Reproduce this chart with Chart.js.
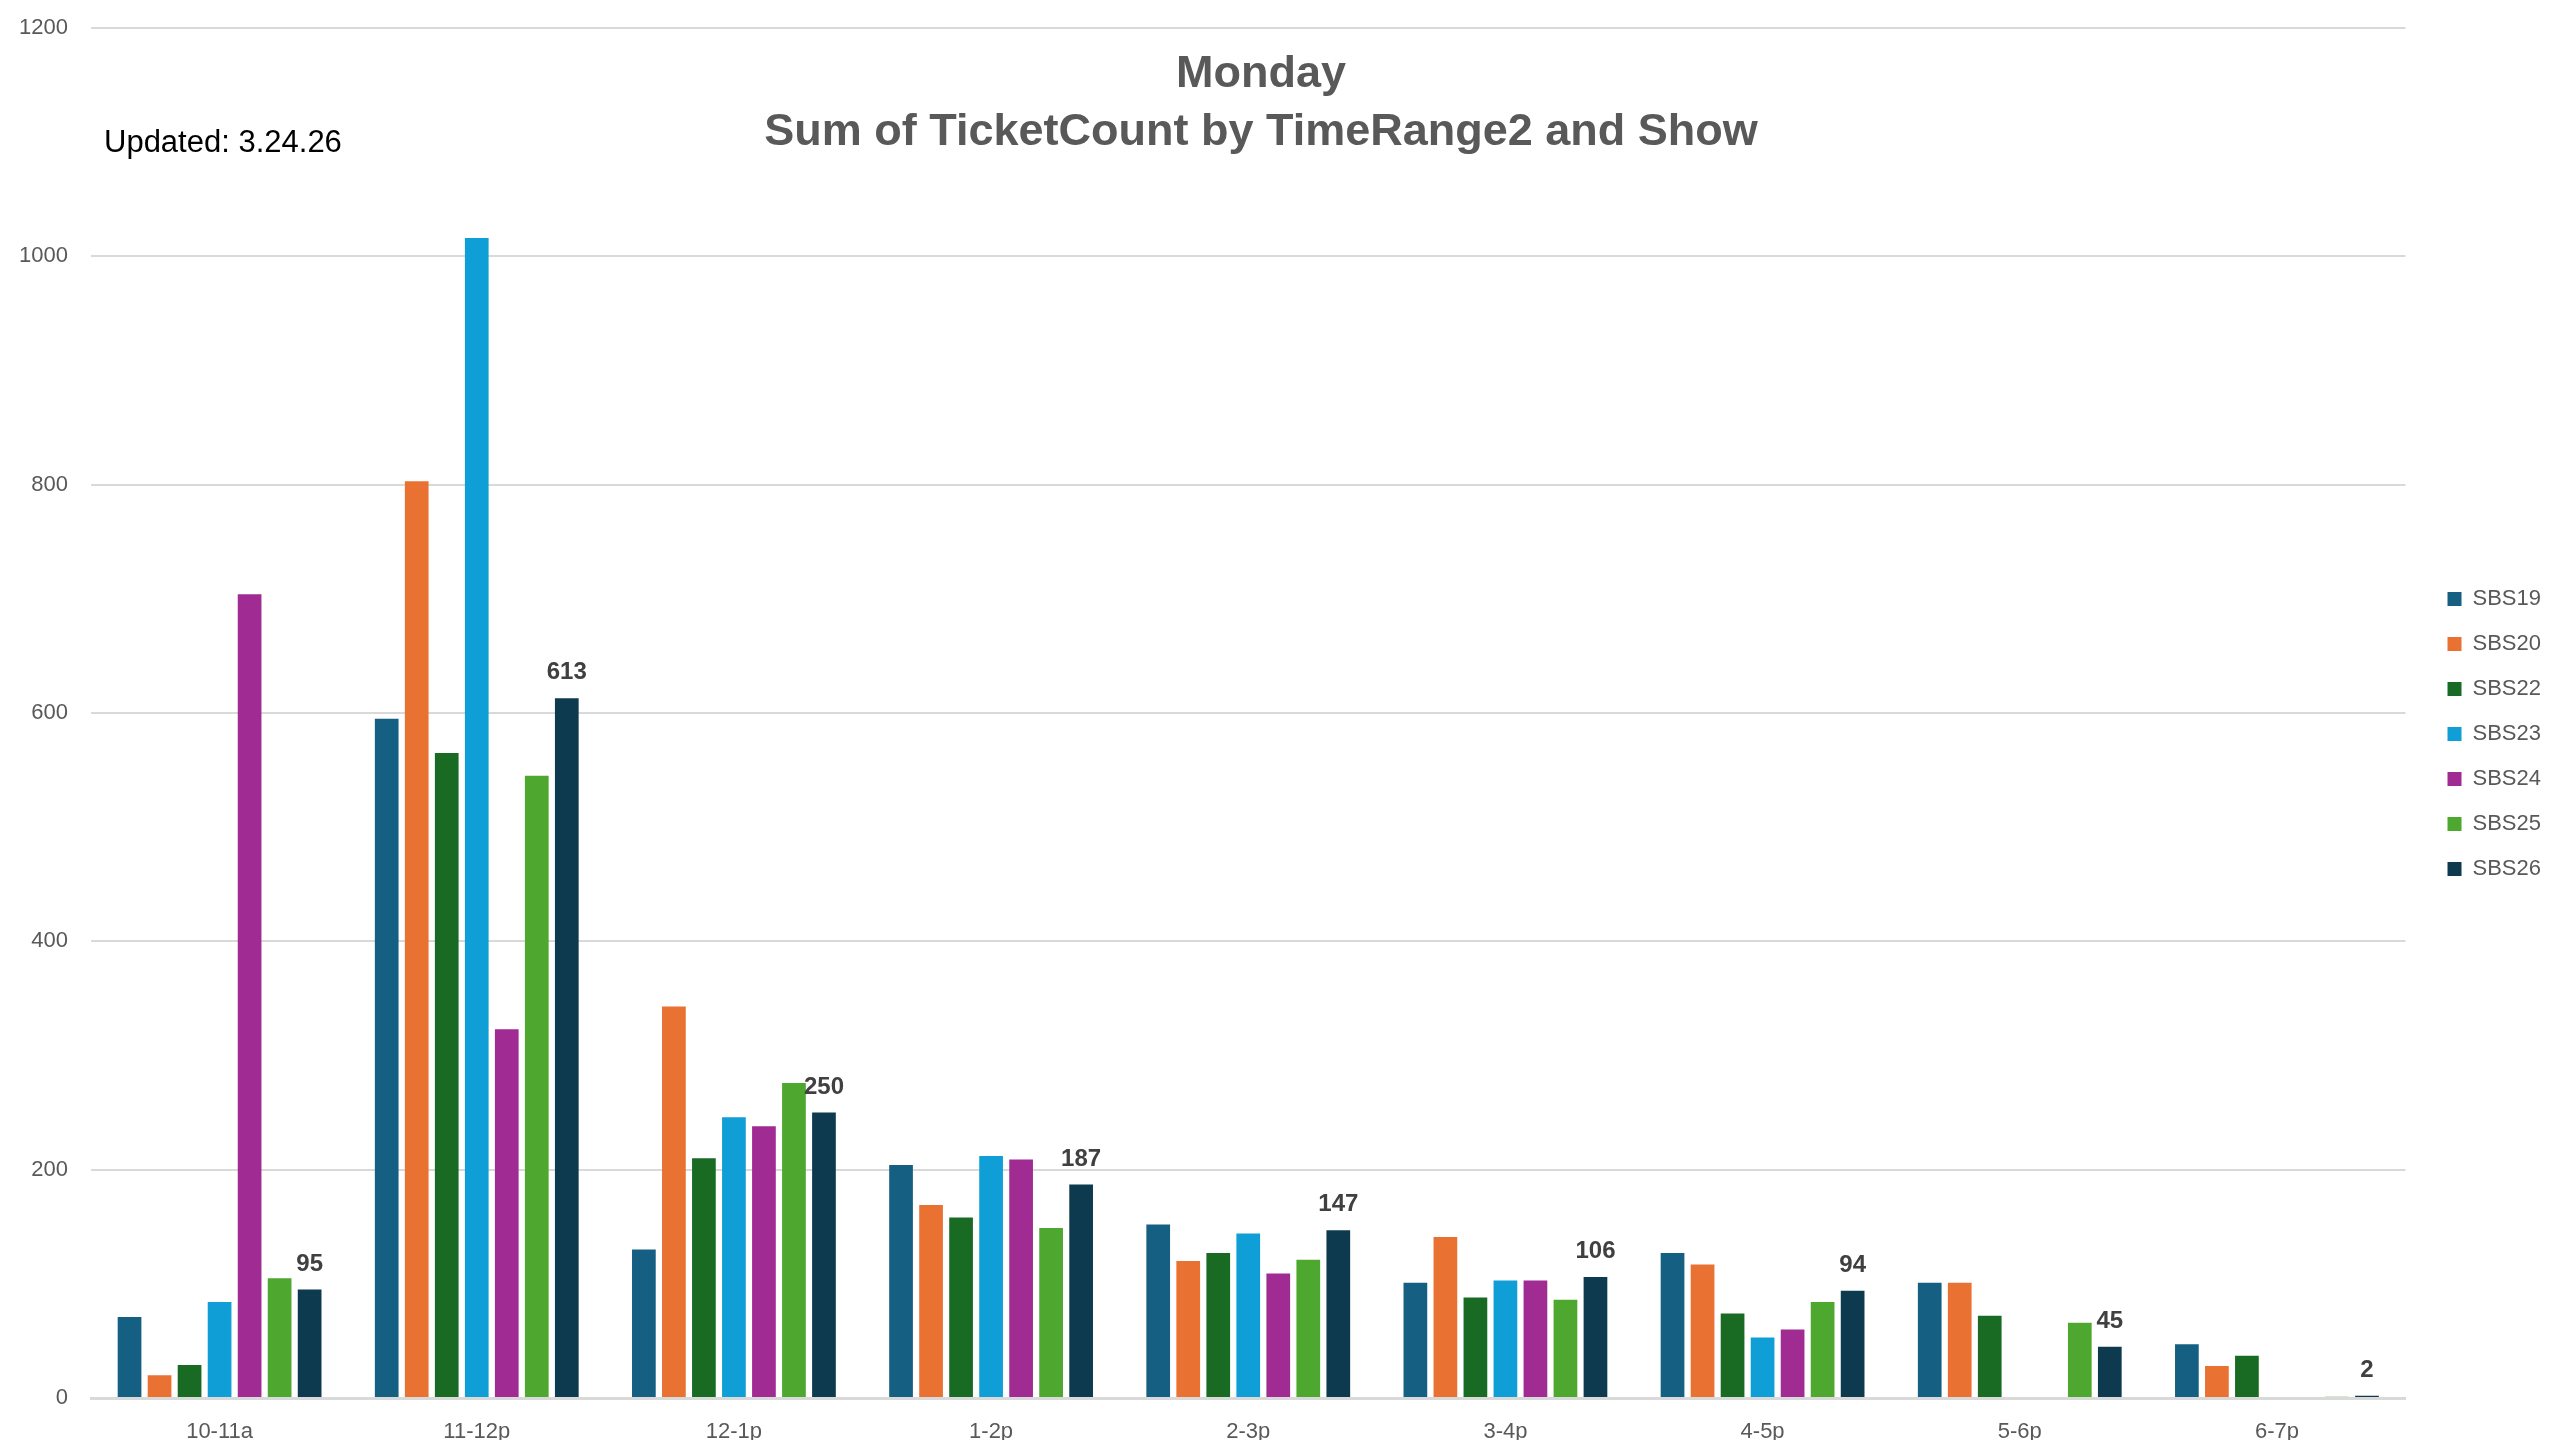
<!DOCTYPE html>
<html>
<head>
<meta charset="utf-8">
<title>Monday - Sum of TicketCount by TimeRange2 and Show</title>
<script src="https://cdn.jsdelivr.net/npm/chart.js@4.4.1/dist/chart.umd.min.js"></script>
<style>
  html, body { margin: 0; padding: 0; background: #fff; }
  #wrap { position: relative; width: 2560px; height: 1440px; }
  #chart { position: absolute; left: 0; top: 0; }
  #title {
    position: absolute; left: 0; top: 43px; width: 2522px;
    text-align: center; color: #595959;
    font: bold 45px "Liberation Sans", Arial, sans-serif; line-height: 58px;
  }
  #updated {
    position: absolute; left: 104px; top: 125px; color: #000;
    font: 31px "Liberation Sans", Arial, sans-serif; line-height: 34px;
  }
</style>
</head>
<body>
<div id="wrap">
  <canvas id="chart" width="2560" height="1440"></canvas>
  <div id="title">Monday<br>Sum of TicketCount by TimeRange2 and Show</div>
  <div id="updated">Updated: 3.24.26</div>
</div>
<script>
// categories and series
const timeRanges = ['10-11a', '11-12p', '12-1p', '1-2p', '2-3p', '3-4p', '4-5p', '5-6p', '6-7p'];
const sbs19 = [71, 595, 130, 204, 152, 101, 127, 101, 47];
const sbs20 = [20, 803, 343, 169, 120, 141, 117, 101, 28];
const sbs22 = [29, 565, 210, 158, 127, 88, 74, 72, 37];
const sbs23 = [84, 1016, 246, 212, 144, 103, 53, null, null];
const sbs24 = [704, 323, 238, 209, 109, 103, 60, null, null];
const sbs25 = [105, 545, 276, 149, 121, 86, 84, 66, 1];
const sbs26 = [95, 613, 250, 187, 147, 106, 94, 45, 2];
const showNames = ['SBS19', 'SBS20', 'SBS22', 'SBS23', 'SBS24', 'SBS25', 'SBS26'];
const yTicks = [0, 200, 400, 600, 800, 1000, 1200];

const series = [sbs19, sbs20, sbs22, sbs23, sbs24, sbs25, sbs26];
const colors = ['#156082', '#E97132', '#196B24', '#0F9ED5', '#A02B93', '#4EA72E', '#0D3A4E'];

const fontFamily = '"Liberation Sans", Arial, sans-serif';
Chart.defaults.font.family = fontFamily;

// value labels on the last series only (SBS26)
const lastSeriesLabels = {
  id: 'lastSeriesLabels',
  afterDatasetsDraw(chart) {
    const idx = chart.data.datasets.length - 1;
    const meta = chart.getDatasetMeta(idx);
    const values = chart.data.datasets[idx].data;
    const ctx = chart.ctx;
    ctx.save();
    ctx.font = 'bold 24px ' + fontFamily;
    ctx.fillStyle = '#404040';
    ctx.textAlign = 'center';
    ctx.textBaseline = 'alphabetic';
    meta.data.forEach((bar, i) => {
      if (values[i] == null) return;
      ctx.fillText(String(values[i]), bar.x, bar.y - 19);
    });
    ctx.restore();
  }
};

new Chart(document.getElementById('chart').getContext('2d'), {
  type: 'bar',
  data: {
    labels: timeRanges,
    datasets: series.map((d, i) => ({
      label: showNames[i],
      data: d,
      backgroundColor: colors[i],
      borderWidth: 0,
      categoryPercentage: 0.817,
      barPercentage: 0.79
    }))
  },
  options: {
    responsive: false,
    animation: false,
    layout: { padding: { left: 18, top: 28, right: 9, bottom: 0 } },
    plugins: {
      title: { display: false },
      tooltip: { enabled: false },
      legend: {
        position: 'right',
        labels: {
          boxWidth: 14,
          boxHeight: 14,
          padding: 23,
          color: '#595959',
          font: { size: 22 }
        }
      }
    },
    scales: {
      x: {
        grid: { display: false, drawTicks: false },
        border: { display: true, color: '#d9d9d9', width: 3 },
        ticks: { color: '#595959', font: { size: 22 }, padding: 21 },
        afterFit(scale) { scale.height = 42; }
      },
      y: {
        min: 0,
        max: 1200,
        afterBuildTicks(scale) { scale.ticks = yTicks.map(v => ({ value: v })); },
        ticks: {
          color: '#595959',
          font: { size: 22, lineHeight: 0.3 },
          padding: 23,
          callback: v => String(v)
        },
        grid: { color: '#d9d9d9', lineWidth: 2, drawTicks: false },
        border: { display: false },
        afterFit(scale) { scale.width = 73; }
      },
      // empty spacer between plot and legend
      gap: {
        type: 'linear',
        position: 'right',
        display: true,
        grid: { display: false, drawTicks: false },
        border: { display: false },
        ticks: { display: false },
        afterFit(scale) { scale.width = 19; }
      }
    }
  },
  plugins: [lastSeriesLabels]
});
</script>
</body>
</html>
